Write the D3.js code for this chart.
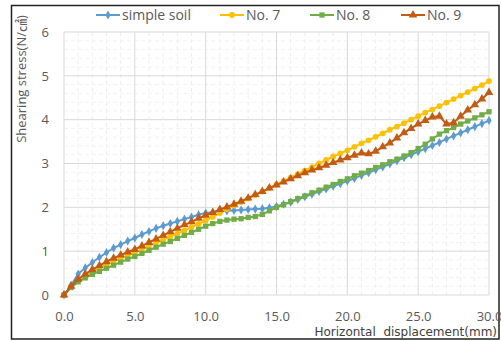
<!DOCTYPE html>
<html>
<script src="https://d3js.org/d3.v7.min.js"></script>
<body style="margin:0;background:#fff">
<svg id="chart" width="501" height="341"></svg>
<script>
// displacement (mm), one point every 0.5 mm
const disp = d3.range(0, 30.01, 0.5);

const simpleSoil = [0, 0.22, 0.48, 0.62, 0.74, 0.86, 0.97, 1.07, 1.15, 1.23,
  1.30, 1.38, 1.45, 1.52, 1.58, 1.63, 1.68, 1.73, 1.78, 1.83,
  1.87, 1.89, 1.91, 1.92, 1.93, 1.94, 1.95, 1.96, 1.97, 1.99,
  2.02, 2.07, 2.12, 2.18, 2.24, 2.30, 2.36, 2.42, 2.48, 2.54,
  2.60, 2.66, 2.73, 2.79, 2.86, 2.92, 2.99, 3.06, 3.13, 3.20,
  3.27, 3.34, 3.41, 3.48, 3.56, 3.63, 3.70, 3.77, 3.84, 3.91, 3.98];

const no7 = [0, 0.18, 0.33, 0.44, 0.53, 0.62, 0.70, 0.77, 0.84, 0.90,
  0.97, 1.04, 1.12, 1.19, 1.26, 1.33, 1.40, 1.47, 1.55, 1.62,
  1.70, 1.78, 1.87, 1.96, 2.04, 2.12, 2.20, 2.28, 2.36, 2.44,
  2.52, 2.60, 2.68, 2.76, 2.84, 2.92, 3.00, 3.08, 3.16, 3.23,
  3.30, 3.38, 3.46, 3.53, 3.61, 3.69, 3.77, 3.84, 3.92, 4.00,
  4.08, 4.16, 4.23, 4.31, 4.39, 4.47, 4.55, 4.63, 4.71, 4.79, 4.88];

const no8 = [0, 0.17, 0.30, 0.39, 0.47, 0.54, 0.61, 0.68, 0.75, 0.82,
  0.88, 0.95, 1.02, 1.09, 1.16, 1.22, 1.29, 1.36, 1.43, 1.50,
  1.57, 1.63, 1.68, 1.71, 1.73, 1.74, 1.77, 1.79, 1.84, 1.92,
  2.00, 2.06, 2.13, 2.20, 2.26, 2.33, 2.39, 2.46, 2.52, 2.59,
  2.65, 2.72, 2.78, 2.84, 2.91, 2.97, 3.04, 3.10, 3.17, 3.25,
  3.34, 3.44, 3.56, 3.67, 3.75, 3.82, 3.90, 3.97, 4.04, 4.11, 4.18];

const no9 = [0, 0.20, 0.36, 0.48, 0.58, 0.67, 0.76, 0.84, 0.91, 0.98,
  1.04, 1.12, 1.20, 1.28, 1.36, 1.44, 1.52, 1.60, 1.67, 1.75,
  1.82, 1.88, 1.95, 2.01, 2.07, 2.14, 2.21, 2.29, 2.36, 2.44,
  2.51, 2.58, 2.65, 2.72, 2.79, 2.85, 2.90, 2.96, 3.02, 3.08,
  3.13, 3.19, 3.24, 3.22, 3.28, 3.38, 3.47, 3.58, 3.70, 3.80,
  3.90, 3.98, 4.06, 4.08, 3.90, 3.93, 4.08, 4.22, 4.34, 4.47, 4.62];

const seriesNames = ["simple soil", "No. 7", "No. 8", "No. 9"];
const seriesValues = [simpleSoil, no7, no8, no9];
const colors = ["#5b9bd5", "#ffc000", "#70ad47", "#c55a11"];
const shapes = [d3.symbolDiamond, d3.symbolCircle, d3.symbolSquare, d3.symbolTriangle];
const shapeSizes = [24, 26, 28, 32];

const xTicks = [0, 5, 10, 15, 20, 25, 30];
const yTicks = [0, 1, 2, 3, 4, 5, 6];

const svg = d3.select("#chart");
const font = "'Open Sans', 'Noto Sans CJK KR', sans-serif";

// outer frame
svg.append("rect")
  .attr("x", 11.5).attr("y", 5.5)
  .attr("width", 487.5).attr("height", 333.5)
  .attr("fill", "#fff").attr("stroke", "#222").attr("stroke-width", 1.5);

const x = d3.scaleLinear().domain([0, 30]).range([64, 489]);
const y = d3.scaleLinear().domain([0, 6]).range([295, 32]);

const g = svg.append("g");

// minor grid
g.selectAll(".vminor").data(d3.range(0, 31, 1).filter(d => d % 5 !== 0))
  .join("line")
  .attr("x1", d => x(d)).attr("x2", d => x(d))
  .attr("y1", y(0)).attr("y2", y(6))
  .attr("stroke", "#eeeeee").attr("stroke-dasharray", "4,3");
g.selectAll(".hminor").data(d3.range(0.2, 6, 0.2).filter(d => Math.abs(d - Math.round(d)) > 0.05))
  .join("line")
  .attr("x1", x(0)).attr("x2", x(30))
  .attr("y1", d => y(d)).attr("y2", d => y(d))
  .attr("stroke", "#f3f3f3").attr("stroke-dasharray", "4,3");

// major grid
g.selectAll(".vmajor").data(xTicks).join("line")
  .attr("x1", d => x(d)).attr("x2", d => x(d))
  .attr("y1", y(0)).attr("y2", y(6))
  .attr("stroke", "#d9d9d9");
g.selectAll(".hmajor").data(yTicks).join("line")
  .attr("x1", x(0)).attr("x2", x(30))
  .attr("y1", d => y(d)).attr("y2", d => y(d))
  .attr("stroke", "#d9d9d9");

// axes labels via d3 axes
const xAxis = svg.append("g")
  .attr("transform", `translate(0,${y(0) + 14})`)
  .call(d3.axisBottom(x).tickValues(xTicks).tickFormat(d3.format(".1f")).tickSize(0));
const yAxis = svg.append("g")
  .attr("transform", `translate(${x(0) - 12},0)`)
  .call(d3.axisLeft(y).tickValues(yTicks).tickFormat(d3.format("d")).tickSize(0));
[xAxis, yAxis].forEach(a => {
  a.select(".domain").remove();
  a.selectAll("text").attr("fill", "#595959")
    .style("font-family", font).style("font-size", "13px");
});

// series
const line = d3.line().x((d, i) => x(disp[i])).y(d => y(d));
seriesValues.forEach((vals, k) => {
  g.append("path").datum(vals)
    .attr("d", line)
    .attr("fill", "none")
    .attr("stroke", colors[k])
    .attr("stroke-width", 2);
  g.selectAll(".m" + k).data(vals).join("path")
    .attr("transform", (d, i) => `translate(${x(disp[i])},${y(d)})`)
    .attr("d", d3.symbol().type(shapes[k]).size(shapeSizes[k]))
    .attr("fill", colors[k]);
});

// legend
const legendX = [96, 220, 310, 401];
const legend = svg.append("g");
seriesNames.forEach((name, k) => {
  const lg = legend.append("g").attr("transform", `translate(${legendX[k]},15)`);
  lg.append("line").attr("x1", 0).attr("x2", 24)
    .attr("stroke", colors[k]).attr("stroke-width", 2);
  lg.append("path").attr("transform", "translate(12,0)")
    .attr("d", d3.symbol().type(shapes[k]).size(shapeSizes[k]))
    .attr("fill", colors[k]);
  lg.append("text").attr("x", 26).attr("y", 0).attr("dy", "0.35em")
    .attr("fill", "#595959")
    .style("font-family", font).style("font-size", "14px")
    .text(name);
});

// axis titles
svg.append("text")
  .attr("transform", "translate(26,79) rotate(-90)")
  .attr("text-anchor", "middle")
  .attr("fill", "#595959")
  .style("font-family", font).style("font-size", "13px")
  .text("Shearing stress(N/㎠)");

svg.append("text")
  .attr("x", 497).attr("y", 336)
  .attr("text-anchor", "end")
  .attr("fill", "#404040")
  .style("font-family", "'DejaVu Sans', sans-serif").style("font-size", "12px")
  .text("Horizontal\u00a0 displacement(mm)");
</script>
</body>
</html>
